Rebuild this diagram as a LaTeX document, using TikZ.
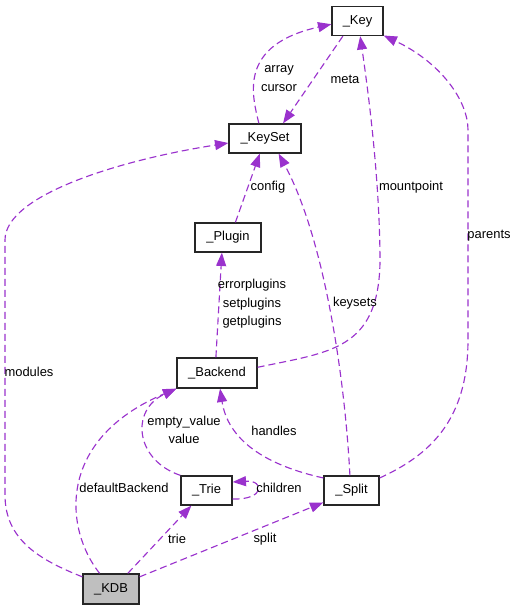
\documentclass[tikz,border=0pt]{standalone}
\usepackage{fontspec}
\setmainfont{Liberation Sans}
\usetikzlibrary{arrows.meta}
\definecolor{relpurple}{HTML}{9A32CD}
\definecolor{kdbgrey}{HTML}{BFBFBF}
\begin{document}
\begin{tikzpicture}[x=0.75pt, y=-0.75pt, >={Triangle[length=10pt, width=7.5pt]},
	cls/.style={draw=black!85, line width=1pt, minimum height=21.75pt, inner sep=0pt, font=\fontsize{9.7}{11.6}\selectfont},
	rel/.style={->, draw=relpurple, line width=0.85pt, dash pattern=on 5.25pt off 3pt},
	lbl/.style={font=\fontsize{9.7}{13.9}\selectfont, align=center, inner sep=0pt}]
		\useasboundingbox (0,0) rectangle (517,611);
		\node[cls, minimum width=38.25pt] (Key) at (357.5, 21) {\_Key};
		\node[cls, minimum width=54pt] (KeySet) at (265, 138.5) {\_KeySet};
		\node[cls, minimum width=49.5pt] (Plugin) at (228, 237.5) {\_Plugin};
		\node[cls, minimum width=60pt, minimum height=22.5pt] (Backend) at (217, 373) {\_Backend};
		\node[cls, minimum width=38.25pt] (Trie) at (206.5, 490.5) {\_Trie};
		\node[cls, minimum width=41.25pt] (Split) at (351.5, 490.5) {\_Split};
		\node[cls, fill=kdbgrey, minimum width=42pt, minimum height=22.5pt] (KDB) at (111, 589) {\_KDB};
		
		\draw[rel] (KeySet.112) .. controls (252, 95) and (238, 45) .. (Key.187);
		\draw[rel] (Key.226) -- (KeySet.40);
		\draw[rel] (KDB.157) .. controls (40, 560) and (5, 540) .. (5, 495) -- (5, 240) .. controls (5, 195) and (120, 160) .. (KeySet.187);
		\draw[rel] (Plugin.64) -- (KeySet.251);
		\draw[rel] (Backend.8) .. controls (330, 352) and (378, 350) .. (380, 263) .. controls (380, 180) and (368, 90) .. (Key.280);
		\draw[rel] (Backend.94) -- (Plugin.248);
		\draw[rel] (Split.96) .. controls (345, 380) and (325, 240) .. (KeySet.312);
		\draw[rel] (Split.24) .. controls (430, 455) and (468, 420) .. (468, 340) -- (468, 130) .. controls (468, 100) and (440, 62) .. (Key.331);
		\draw[rel] (Split.156) .. controls (265, 465) and (228, 440) .. (Backend.281);
		\draw[rel] (Trie.north west) .. controls (135, 460) and (130, 410) .. (Backend.south west);
		\draw[rel] (KDB.126) .. controls (65, 530) and (55, 440) .. (Backend.south west);
		\draw[rel] (Trie.342) .. controls (265, 500) and (265, 480) .. (Trie.18);
		\draw[rel] (KDB.43) -- (Trie.225);
		\draw[rel] (KDB.23) -- (Split.203);
		
		\node[lbl] (lArray) at (279, 78.5) {array\\cursor};
		\node[lbl] (lMeta) at (345, 79) {meta};
		\node[lbl] (lModules) at (29, 372) {modules};
		\node[lbl] (lConfig) at (268, 187) {config};
		\node[lbl] (lMount) at (411, 187) {mountpoint};
		\node[lbl] (lPlugins) at (252, 304) {errorplugins\\setplugins\\getplugins};
		\node[lbl] (lKeysets) at (355, 303) {keysets};
		\node[lbl] (lParents) at (489, 236) {parents};
		\node[lbl] (lHandles) at (274, 431) {handles};
		\node[lbl] (lValue) at (184, 430) {empty\_value\\value};
		\node[lbl] (lDefault) at (124, 488) {defaultBackend};
		\node[lbl] (lChildren) at (279, 488) {children};
		\node[lbl] (lTrie) at (177, 539) {trie};
		\node[lbl] (lSplit) at (265, 539) {split};
	\end{tikzpicture}
\end{document}
